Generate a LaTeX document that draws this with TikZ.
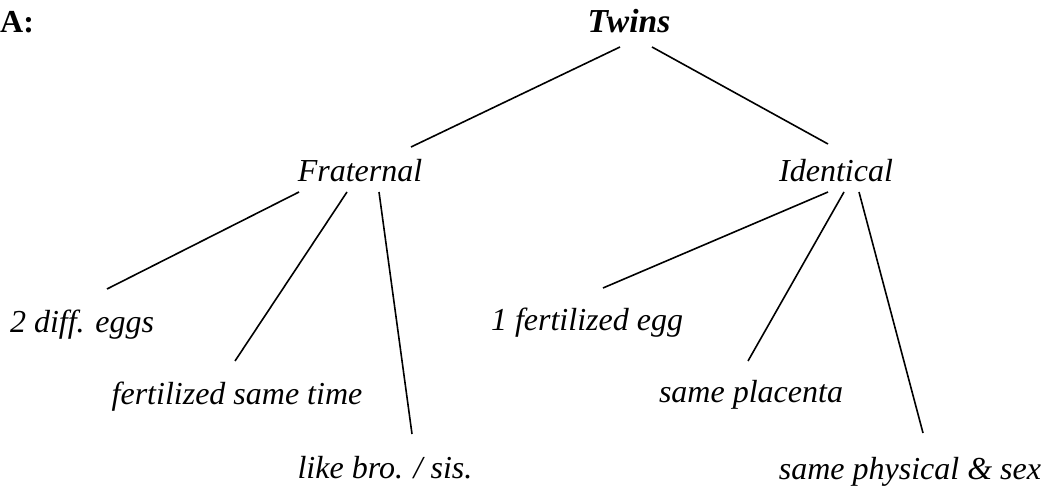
\documentclass[tikz,border=0pt]{standalone}
\usepackage{fontspec}
\setmainfont{Liberation Serif}
\begin{document}
\begin{tikzpicture}[x=1pt,y=-1pt,
  lbl/.style={inner sep=0pt,anchor=base,font=\fontsize{32}{36}\selectfont\itshape},
  hd/.style={inner sep=0pt,anchor=base,font=\fontsize{33.5}{38}\selectfont\bfseries\itshape},
  edge/.style={line width=1.6pt}]
\useasboundingbox (0,0) rectangle (1049,489);
\node[inner sep=0pt,anchor=base west,font=\fontsize{32}{36}\selectfont\bfseries] (A) at (0,33) {A:};
\node[hd] (tw) at (629,33) {Twins};
\node[lbl] (fr) at (360,182) {Fraternal};
\node[lbl] (id) at (836,182) {Identical};
\node[lbl] (e2) at (82,332) {2 diff. eggs};
\node[lbl] (fs) at (237,404) {fertilized same time};
\node[lbl] (lb) at (385,478) {like bro. / sis.};
\node[lbl] (e1) at (587,330) {1 fertilized egg};
\node[lbl] (sp) at (751,402) {same placenta};
\node[lbl] (ps) at (910,479) {same physical \& sex};
% connector end points
\coordinate (twL) at (620,47);
\coordinate (twR) at (652,47);
\coordinate (frT) at (411,147);
\coordinate (idT) at (828,144);
\coordinate (fr1) at (299,192);
\coordinate (fr2) at (347,192);
\coordinate (fr3) at (379,192);
\coordinate (e2T) at (107,289);
\coordinate (fsT) at (235,361);
\coordinate (lbT) at (412,434);
\coordinate (id1) at (828,192);
\coordinate (id2) at (844,192);
\coordinate (id3) at (859,192);
\coordinate (e1T) at (603,288);
\coordinate (spT) at (748,361);
\coordinate (psT) at (923,433);
\draw[edge] (twL) -- (frT);
\draw[edge] (twR) -- (idT);
\draw[edge] (fr1) -- (e2T);
\draw[edge] (fr2) -- (fsT);
\draw[edge] (fr3) -- (lbT);
\draw[edge] (id1) -- (e1T);
\draw[edge] (id2) -- (spT);
\draw[edge] (id3) -- (psT);
\end{tikzpicture}
\end{document}
